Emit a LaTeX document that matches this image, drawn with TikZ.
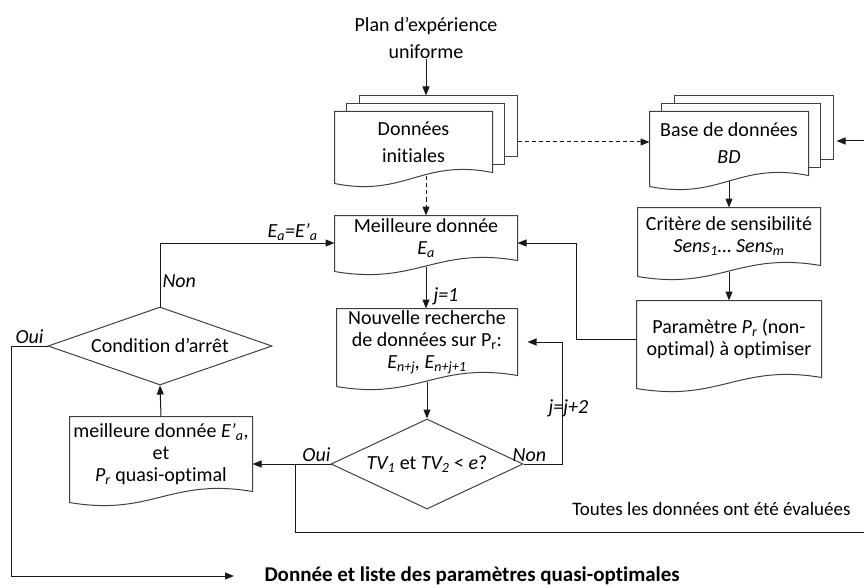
\documentclass[tikz,border=0pt]{standalone}
\usepackage{fontspec}
\setmainfont{Carlito}[Ligatures=NoCommon]
\usetikzlibrary{arrows.meta,shapes.geometric,calc}
\tikzset{every picture/.style={line width=1pt}}
\tikzset{
  txt/.style={font=\fontsize{20}{22}\selectfont, align=center, inner sep=0pt},
  lbl/.style={font=\fontsize{20}{22}\selectfont, inner sep=2pt},
  boxline/.style={draw=black!75, line join=miter},
  doc/.style 2 args={txt, minimum width=#1, minimum height=#2},
  decision/.style 2 args={txt, diamond, boxline, aspect=2.5, minimum width=#1, minimum height=#2},
  flow/.style={draw=black!90, -{Triangle[length=9pt,width=7pt]}},
}
% outline of a document box: flat top, wavy bottom
\newcommand\docline[1]{%
  \draw[boxline] ([yshift=-11pt]#1.south west) -- (#1.north west) -- (#1.north east) -- (#1.south east)
    .. controls ($(#1.south west)!0.55!(#1.south east)+(0pt,14pt)$)
    and ($(#1.south west)!0.45!(#1.south east)+(0pt,-25pt)$) .. ([yshift=-11pt]#1.south west);}
% two pages behind a document box
\newcommand\docstack[1]{%
  \draw[boxline] ([xshift=12pt]#1.north west) -- ([xshift=12pt,yshift=8pt]#1.north west)
    -- ([xshift=12pt,yshift=8pt]#1.north east) -- ([xshift=12pt,yshift=8pt]#1.south east) -- ([yshift=8pt]#1.south east);
  \draw[boxline] ([xshift=25pt,yshift=8pt]#1.north west) -- ([xshift=25pt,yshift=16pt]#1.north west)
    -- ([xshift=25pt,yshift=16pt]#1.north east) -- ([xshift=25pt,yshift=16pt]#1.south east) -- ([xshift=12pt,yshift=16pt]#1.south east);}

\begin{document}
\begin{tikzpicture}[x=1pt,y=-1pt]
\useasboundingbox (0,0) rectangle (864,588);
% data side
\node[txt] (plan) at (426,38) {Plan d’expérience\\[5pt]uniforme};
\node[doc={157pt}{60pt}] (init) at (413.5,142) {Données\\[5pt]initiales};
\node[doc={158pt}{63pt}] (bd) at (729,143.5) {Base de données\\[5pt]\textit{BD}};
\node[doc={182pt}{57pt}] (crit) at (729,236.5) {Critèr\textit{e} de sensibilité\\\textit{Sens\textsubscript{1}… Sens\textsubscript{m}}};
\node[doc={184pt}{76pt}] (param) at (729,339) {Paramètre \textit{P\textsubscript{r}} (non-\\optimal) à optimiser};
% search loop
\node[doc={182pt}{44pt}] (best) at (426,238) {Meilleure donnée\\\textit{E\textsubscript{a}}};
\node[doc={180pt}{66pt}] (search) at (427,342) {Nouvelle recherche\\de données sur P\textsubscript{r}:\\\textit{E\textsubscript{n+j}, E\textsubscript{n+j+1}}};
\node[decision={192pt}{90pt}] (test) at (427,464) {\textit{TV\textsubscript{1}} et \textit{TV\textsubscript{2}} < \textit{e}?};
\node[doc={182pt}{74pt}] (found) at (161,454) {meilleure donnée \textit{E’\textsubscript{a}},\\et\\\textit{P\textsubscript{r}} quasi-optimal};
\node[decision={224pt}{78pt}] (stop) at (160,346) {Condition d’arrêt};
\node[txt, font=\fontsize{21}{23}\selectfont\bfseries, anchor=west] (result) at (264,576) {Donnée et liste des paramètres quasi-optimales};
\node[txt, font=\fontsize{19}{21}\selectfont, anchor=base east] (alldone) at (851,515) {Toutes les données ont été évaluées};
%
\docstack{init} \docline{init}
\docstack{bd} \docline{bd}
\docline{crit} \docline{param}
\docline{best} \docline{search} \docline{found}
%
\path ([yshift=16pt]init.north) coordinate (initback);
\coordinate (feed) at (864,141);
\coordinate (split) at (295,464);
\coordinate (allout) at (864,532);
\draw[flow] (plan.south) -- (plan.south |- initback);
\draw[flow, dash pattern=on 4pt off 3pt] ([yshift=-4pt]init.south -| best.north) -- (best.north);
\draw[flow, dash pattern=on 4pt off 3pt] ([xshift=25pt]init.east) -- (init.east -| bd.west);
\draw[flow] (feed) -- ([xshift=28pt]bd.east |- feed);
\draw[flow] ([yshift=-6pt]bd.south) -- (crit.north);
\draw[flow] ([yshift=-6pt]crit.south) -- (param.north);
\draw[flow] (param.west) -- ++(-60pt,0) |- ([yshift=-5pt]best.east);
\draw[flow] ([yshift=-6pt]best.south) -- node[lbl, right, pos=0.7, xshift=5pt] {\textit{j=1}} (best.south |- search.north);
\draw[flow] ([yshift=-6pt]search.south) -- (test.north);
\draw[flow] (test.east) -- node[lbl, above, pos=0.15] {\textit{Non}} ++(39pt,0)
  |- node[lbl, pos=0.23, xshift=6pt] {\textit{j=j+2}} ([xshift=10pt]search.east);
\draw[flow] (test.west) -- node[lbl, above, pos=0.18] {\textit{Oui}} (test.west -| found.east);
\draw[draw=black!90] (split) |- (allout);
\draw[flow] (found.north) -- (stop.south);
\draw[flow] (stop.north) |- node[lbl, right, pos=0.2] {\textit{Non}}
  node[lbl, above, pos=0.88] {\textit{E\textsubscript{a}=E’\textsubscript{a}}} ([yshift=-5pt]best.west);
\draw[flow, shorten >=30pt] (stop.west) -- node[lbl, above] {\textit{Oui}} ++(-36pt,0) |- (result.west);
\end{tikzpicture}
\end{document}
